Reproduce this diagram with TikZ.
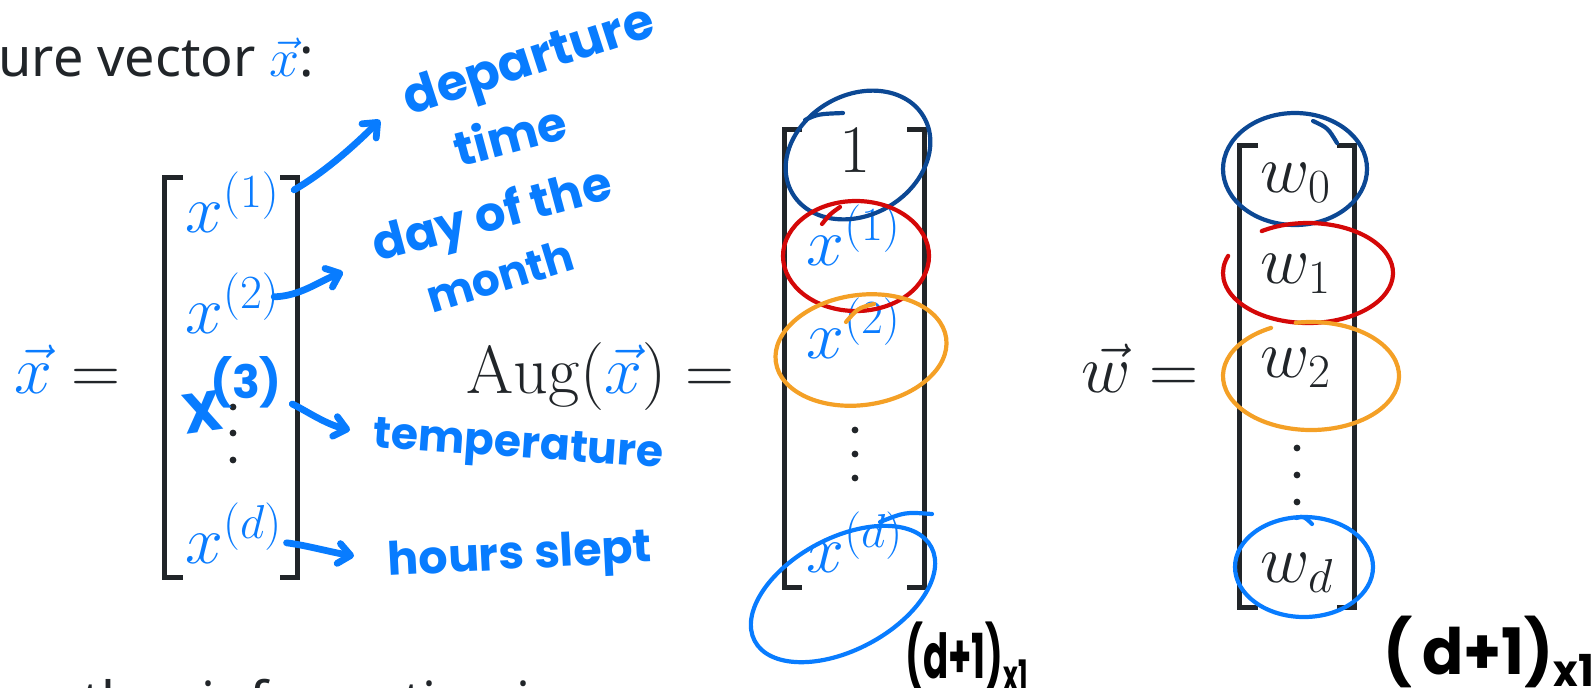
\RequirePackage{fix-cm}
\documentclass[tikz,border=0pt]{standalone}
\usepackage[no-math]{fontspec}
\setmainfont{Noto Sans}
\newfontfamily\hand{Poppins}
\usetikzlibrary{arrows.meta, calc}
\definecolor{ink}{RGB}{33,37,41}
\definecolor{vecblue}{RGB}{10,124,255}
\definecolor{penblue}{RGB}{8,124,255}
\definecolor{pennavy}{RGB}{12,72,148}
\definecolor{penred}{RGB}{212,8,8}
\definecolor{penorange}{RGB}{244,160,38}

\begin{document}
\begin{tikzpicture}[x=0.5pt, y=-0.5pt,
		mathnode/.style={anchor=base west, inner sep=0pt, font=\fontsize{34}{40}\selectfont},
		slide/.style={anchor=base west, inner sep=0pt, ink, font=\fontsize{27}{32}\selectfont},
		brk/.style={ink, line width=2.5pt},
		ring/.style={line width=2.1pt, line cap=round},
		pen/.style={penblue, line width=3.4pt, line cap=round,
			-{Straight Barb[length=6pt, width=10pt, round]}},
		note/.style={penblue, inner sep=0pt, font=\hand\bfseries\fontsize{24}{26}\selectfont}]
	\useasboundingbox (0,0) rectangle (1594,687);
	\clip (0,0) rectangle (1594,687);
	%--- slide text (cut at the edges) ---
	\node[slide] (head) at (-2,76) {ure vector $\textcolor{vecblue}{\vec{x}}$:};
	\node[slide] (foot) at (49,720) {other information is};
	%--- feature vector ---
	\node[mathnode, ink] (xlhs) at (14,393) {$\textcolor{vecblue}{\vec{x}} =$};
	\draw[brk] (183,177.5) -| (164.5,577.5) -- (183,577.5);
	\draw[brk] (280,177.5) -| (297.5,577.5) -- (280,577.5);
	\node[mathnode, vecblue] (xa1) at (185,232) {$x^{(1)}$};
	\node[mathnode, vecblue] (xa2) at (185,333) {$x^{(2)}$};
	\node[mathnode, vecblue] (xad) at (185,563) {$x^{(d)}$};
	\foreach \y in {407,433,460}
	\fill[ink] (233,\y) circle (3.4);
	\node[note, rotate=8, font=\hand\bfseries\fontsize{28}{28}\selectfont] (x3hand) at (203,412) {X};
	\node[note, font=\hand\bfseries\fontsize{23}{24}\selectfont] (x3sup) at (246,382) {(3)};
	%--- notes on the features ---
	\node[note, rotate=18, font=\hand\bfseries\fontsize{25}{26}\selectfont] (lblDep) at (530,64) {departure};
	\node[note, rotate=15] (lblTime) at (510,134) {time};
	\node[note, rotate=15] (lblDay) at (493,218) {day of the};
	\node[note, rotate=17, font=\hand\bfseries\fontsize{22}{24}\selectfont] (lblMonth) at (500,276) {month};
	\node[note, rotate=-4, font=\hand\bfseries\fontsize{22}{24}\selectfont] (lblTemp) at (518,448) {temperature};
	\node[note, rotate=3, font=\hand\bfseries\fontsize{23}{24}\selectfont] (lblHours) at (520,558) {hours slept};
	\coordinate (tipDep) at (380,120);
	\coordinate (tipDay) at (343,272);
	\coordinate (tipTemp) at (350,430);
	\coordinate (tipHours) at (354,556);
	\draw[pen] ($(xa1.east)+(14,-12)$) .. controls (325,172) and (355,145) .. (tipDep);
	\draw[pen] ($(xa2.east)+(-6,-6)$) .. controls (300,296) and (318,282) .. (tipDay);
	\draw[pen] ($(x3sup.east)+(10,22)$) .. controls (305,410) and (325,424) .. (tipTemp);
	\draw[pen] ($(xad.east)+(4,10)$) .. controls (305,545) and (330,552) .. (tipHours);
	%--- augmented vector ---
	\node[mathnode, ink] (auglhs) at (466,393) {$\mathrm{Aug}(\textcolor{vecblue}{\vec{x}}) =$};
	\draw[brk] (802,129.5) -| (784.5,587.5) -- (802,587.5);
	\draw[brk] (907,129.5) -| (924.5,587.5) -- (907,587.5);
	\node[mathnode, ink, anchor=base] (one) at (855,172) {$1$};
	\node[mathnode, vecblue] (xb1) at (806,265) {$x^{(1)}$};
	\node[mathnode, vecblue] (xb2) at (806,358) {$x^{(2)}$};
	\node[mathnode, vecblue] (xbd) at (806,572) {$x^{(d)}$};
	\foreach \y in {430,454,478}
	\fill[ink] (855,\y) circle (3.4);
	\draw[ring, pennavy] (858,155) ellipse [x radius=76, y radius=60, rotate=30];
	\draw[ring, pennavy] (805,120) .. controls (818,114) .. (843,113);
	\draw[ring, penred] (856,256) ellipse [x radius=73, y radius=55];
	\draw[ring, penred] (822,224) .. controls (830,214) .. (840,207);
	\draw[ring, penorange] (861,350) ellipse [x radius=86, y radius=55, rotate=8];
	\draw[ring, penorange] (846,322) .. controls (858,308) .. (874,304);
	\draw[ring, penblue] (843,594) ellipse [x radius=100, y radius=56, rotate=28];
	\draw[ring, penblue] (880,522) .. controls (905,512) .. (932,514);
	\node[anchor=west, inner sep=0pt, black] (dimA) at (905,657)
	{\hand\bfseries\fontsize{31}{31}\selectfont\scalebox{0.6}[1]{(d+1)\raisebox{-6pt}{\fontsize{21}{21}\selectfont x1}}};
	%--- weight vector ---
	\node[mathnode, ink] (wlhs) at (1081,392) {$\vec{w} =$};
	\draw[brk] (1258,145.5) -| (1239.5,607.5) -- (1258,607.5);
	\draw[brk] (1337,145.5) -| (1354.5,607.5) -- (1337,607.5);
	\node[mathnode, ink] (w0) at (1260,192) {$w_0$};
	\node[mathnode, ink] (w1) at (1260,283) {$w_1$};
	\node[mathnode, ink] (w2) at (1260,377) {$w_2$};
	\node[mathnode, ink] (wd) at (1260,582) {$w_d$};
	\foreach \y in {448,475,502}
	\fill[ink] (1297,\y) circle (3.4);
	\draw[ring, pennavy] (1295,169) ellipse [x radius=72, y radius=56];
	\draw[ring, pennavy] (1313,121) .. controls (1328,128) .. (1337,143);
	\draw[ring, penred] ($(1308,273)+(237:85 and 50)$) arc[start angle=237, delta angle=323, x radius=85, y radius=50];
	\draw[ring, penorange] ($(1311,376)+(243:88 and 54)$) arc[start angle=243, delta angle=-343, x radius=88, y radius=54];
	\draw[ring, penblue] (1304,567) ellipse [x radius=69, y radius=50];
	\draw[ring, penblue] (1296,518) .. controls (1304,516) .. (1312,524);
	\node[anchor=west, inner sep=0pt, black] (dimB) at (1383,652)
	{\hand\bfseries\fontsize{32}{32}\selectfont\scalebox{0.95}[1]{(\,d+1)\raisebox{-6pt}{\fontsize{22}{22}\selectfont x1}}};
\end{tikzpicture}
\end{document}
